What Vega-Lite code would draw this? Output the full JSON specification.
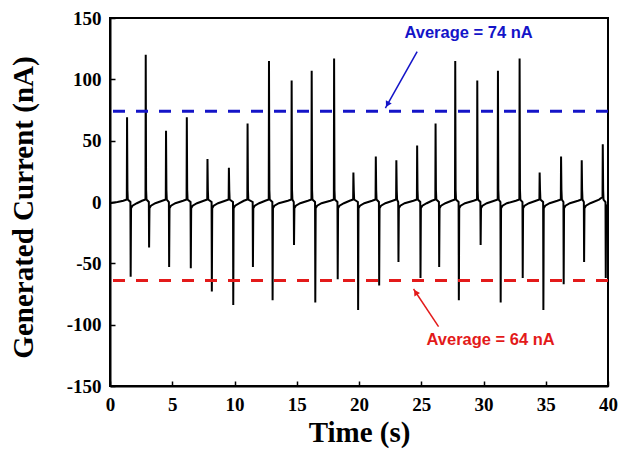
{
  "$schema": "https://vega.github.io/schema/vega-lite/v6.json",
  "autosize": {"type": "none"},
  "padding": {"left": 110, "top": 18, "right": 15, "bottom": 70},
  "width": 498,
  "height": 368,
  "background": "white",
  "config": {
    "view": {"stroke": "black", "strokeWidth": 2},
    "axis": {
      "grid": false,
      "domainColor": "black",
      "domainWidth": 2,
      "tickColor": "black",
      "tickWidth": 1.5,
      "labelFont": "Liberation Serif",
      "labelFontWeight": "bold",
      "labelFontSize": 19,
      "labelColor": "black",
      "titleFont": "Liberation Serif",
      "titleFontWeight": "bold",
      "titleFontSize": 29,
      "titleColor": "black"
    }
  },
  "datasets": {
    "trace": [
      {"t":0,"v":-1},{"t":0.6,"v":0},
      {"t":1.07,"v":1},{"t":1.35,"v":2},{"t":1.37,"v":69},{"t":1.40,"v":10},{"t":1.43,"v":2},{"t":1.64,"v":0},{"t":1.66,"v":-61},{"t":1.69,"v":-5},{"t":1.81,"v":-3},{"t":2.16,"v":-1},
      {"t":2.57,"v":1},{"t":2.85,"v":2},{"t":2.87,"v":120},{"t":2.90,"v":10},{"t":2.93,"v":2},{"t":3.12,"v":0},{"t":3.14,"v":-37},{"t":3.17,"v":-5},{"t":3.29,"v":-3},{"t":3.64,"v":-1},
      {"t":4.20,"v":1},{"t":4.48,"v":2},{"t":4.50,"v":58},{"t":4.53,"v":10},{"t":4.56,"v":2},{"t":4.73,"v":0},{"t":4.75,"v":-53},{"t":4.78,"v":-5},{"t":4.90,"v":-3},{"t":5.25,"v":-1},
      {"t":5.87,"v":1},{"t":6.15,"v":2},{"t":6.17,"v":69},{"t":6.20,"v":10},{"t":6.23,"v":2},{"t":6.47,"v":0},{"t":6.49,"v":-54},{"t":6.52,"v":-5},{"t":6.64,"v":-3},{"t":6.99,"v":-1},
      {"t":7.53,"v":1},{"t":7.81,"v":2},{"t":7.83,"v":35},{"t":7.86,"v":10},{"t":7.89,"v":2},{"t":8.16,"v":0},{"t":8.18,"v":-73},{"t":8.21,"v":-5},{"t":8.33,"v":-3},{"t":8.68,"v":-1},
      {"t":9.25,"v":1},{"t":9.53,"v":2},{"t":9.55,"v":28},{"t":9.58,"v":10},{"t":9.61,"v":2},{"t":9.88,"v":0},{"t":9.90,"v":-84},{"t":9.93,"v":-5},{"t":10.05,"v":-3},{"t":10.40,"v":-1},
      {"t":10.75,"v":1},{"t":11.03,"v":2},{"t":11.05,"v":64},{"t":11.08,"v":10},{"t":11.11,"v":2},{"t":11.46,"v":0},{"t":11.48,"v":-53},{"t":11.51,"v":-5},{"t":11.63,"v":-3},{"t":11.98,"v":-1},
      {"t":12.47,"v":1},{"t":12.75,"v":2},{"t":12.77,"v":115},{"t":12.80,"v":10},{"t":12.83,"v":2},{"t":13.04,"v":0},{"t":13.06,"v":-80},{"t":13.09,"v":-5},{"t":13.21,"v":-3},{"t":13.56,"v":-1},
      {"t":14.29,"v":1},{"t":14.57,"v":2},{"t":14.59,"v":99},{"t":14.62,"v":10},{"t":14.65,"v":2},{"t":14.76,"v":0},{"t":14.78,"v":-35},{"t":14.81,"v":-5},{"t":14.93,"v":-3},{"t":15.28,"v":-1},
      {"t":15.90,"v":1},{"t":16.18,"v":2},{"t":16.20,"v":107},{"t":16.23,"v":10},{"t":16.26,"v":2},{"t":16.47,"v":0},{"t":16.49,"v":-82},{"t":16.52,"v":-5},{"t":16.64,"v":-3},{"t":16.99,"v":-1},
      {"t":17.70,"v":1},{"t":17.98,"v":2},{"t":18.00,"v":117},{"t":18.03,"v":10},{"t":18.06,"v":2},{"t":18.27,"v":0},{"t":18.29,"v":-63},{"t":18.32,"v":-5},{"t":18.44,"v":-3},{"t":18.79,"v":-1},
      {"t":19.25,"v":1},{"t":19.53,"v":2},{"t":19.55,"v":24},{"t":19.58,"v":10},{"t":19.61,"v":2},{"t":19.91,"v":0},{"t":19.93,"v":-88},{"t":19.96,"v":-5},{"t":20.08,"v":-3},{"t":20.43,"v":-1},
      {"t":21.05,"v":1},{"t":21.33,"v":2},{"t":21.35,"v":37},{"t":21.38,"v":10},{"t":21.41,"v":2},{"t":21.60,"v":0},{"t":21.62,"v":-68},{"t":21.65,"v":-5},{"t":21.77,"v":-3},{"t":22.12,"v":-1},
      {"t":22.70,"v":1},{"t":22.98,"v":2},{"t":23.00,"v":34},{"t":23.03,"v":10},{"t":23.06,"v":2},{"t":23.15,"v":0},{"t":23.17,"v":-49},{"t":23.20,"v":-5},{"t":23.32,"v":-3},{"t":23.67,"v":-1},
      {"t":24.37,"v":1},{"t":24.65,"v":2},{"t":24.67,"v":46},{"t":24.70,"v":10},{"t":24.73,"v":2},{"t":24.92,"v":0},{"t":24.94,"v":-62},{"t":24.97,"v":-5},{"t":25.09,"v":-3},{"t":25.44,"v":-1},
      {"t":25.85,"v":1},{"t":26.13,"v":2},{"t":26.15,"v":64},{"t":26.18,"v":10},{"t":26.21,"v":2},{"t":26.42,"v":0},{"t":26.44,"v":-53},{"t":26.47,"v":-5},{"t":26.59,"v":-3},{"t":26.94,"v":-1},
      {"t":27.43,"v":1},{"t":27.71,"v":2},{"t":27.73,"v":115},{"t":27.76,"v":10},{"t":27.79,"v":2},{"t":28.00,"v":0},{"t":28.02,"v":-80},{"t":28.05,"v":-5},{"t":28.17,"v":-3},{"t":28.52,"v":-1},
      {"t":29.20,"v":1},{"t":29.48,"v":2},{"t":29.50,"v":99},{"t":29.53,"v":10},{"t":29.56,"v":2},{"t":29.75,"v":0},{"t":29.77,"v":-35},{"t":29.80,"v":-5},{"t":29.92,"v":-3},{"t":30.27,"v":-1},
      {"t":30.86,"v":1},{"t":31.14,"v":2},{"t":31.16,"v":107},{"t":31.19,"v":10},{"t":31.22,"v":2},{"t":31.36,"v":0},{"t":31.38,"v":-82},{"t":31.41,"v":-5},{"t":31.53,"v":-3},{"t":31.88,"v":-1},
      {"t":32.60,"v":1},{"t":32.88,"v":2},{"t":32.90,"v":117},{"t":32.93,"v":10},{"t":32.96,"v":2},{"t":33.13,"v":0},{"t":33.15,"v":-62},{"t":33.18,"v":-5},{"t":33.30,"v":-3},{"t":33.65,"v":-1},
      {"t":34.21,"v":1},{"t":34.49,"v":2},{"t":34.51,"v":24},{"t":34.54,"v":10},{"t":34.57,"v":2},{"t":34.79,"v":0},{"t":34.81,"v":-88},{"t":34.84,"v":-5},{"t":34.96,"v":-3},{"t":35.31,"v":-1},
      {"t":35.93,"v":1},{"t":36.21,"v":2},{"t":36.23,"v":37},{"t":36.26,"v":10},{"t":36.29,"v":2},{"t":36.42,"v":0},{"t":36.44,"v":-67},{"t":36.47,"v":-5},{"t":36.59,"v":-3},{"t":36.94,"v":-1},
      {"t":37.59,"v":1},{"t":37.87,"v":2},{"t":37.89,"v":34},{"t":37.92,"v":10},{"t":37.95,"v":2},{"t":38.06,"v":0},{"t":38.08,"v":-49},{"t":38.11,"v":-5},{"t":38.23,"v":-3},{"t":38.58,"v":-1},
      {"t":39.28,"v":2},{"t":39.56,"v":4},{"t":39.58,"v":47},{"t":39.61,"v":10},{"t":39.64,"v":2},{"t":39.80,"v":0},{"t":39.82,"v":-62},{"t":39.85,"v":-5},{"t":39.93,"v":-3},{"t":40.0,"v":-2}
    ],
    "avg": [
      {"kind": "high", "v": 74},
      {"kind": "low", "v": -64}
    ],
    "arrows": [
      {"kind": "high", "t": 24.67, "v": 122.5, "t2": 22.12, "v2": 76.6},
      {"kind": "low", "t": 26.39, "v": -101.6, "t2": 24.38, "v2": -70.9}
    ],
    "heads": [
      {"kind": "high", "t": 22.28, "v": 79.5},
      {"kind": "low", "t": 24.55, "v": -73.6}
    ],
    "labels": [
      {"kind": "high", "t": 28.8, "v": 137.7, "text": "Average = 74 nA"},
      {"kind": "low", "t": 30.57, "v": -112.5, "text": "Average = 64 nA"}
    ]
  },
  "layer": [
    {
      "data": {"name": "trace"},
      "mark": {"type": "line", "color": "black", "strokeWidth": 2, "clip": true},
      "encoding": {
        "x": {
          "field": "t", "type": "quantitative",
          "scale": {"domain": [0, 40], "nice": false, "zero": false},
          "axis": {
            "title": "Time (s)",
            "values": [0,2.5,5,7.5,10,12.5,15,17.5,20,22.5,25,27.5,30,32.5,35,37.5,40],
            "labelExpr": "datum.value % 5 === 0 ? '' + datum.value : ''",
            "tickSize": -5,
            "labelPadding": 14,
            "titleY": 46,
            "titleBaseline": "middle",
            "labelFlush": false
          }
        },
        "y": {
          "field": "v", "type": "quantitative",
          "scale": {"domain": [-150, 150], "nice": false},
          "axis": {
            "title": "Generated Current (nA)",
            "values": [-150,-125,-100,-75,-50,-25,0,25,50,75,100,125,150],
            "labelExpr": "datum.value % 50 === 0 ? '' + datum.value : ''",
            "tickSize": -5,
            "labelPadding": 14,
            "titleX": -87,
            "titleY": 189,
            "titleAngle": -90,
            "titleAlign": "center",
            "titleBaseline": "middle",
            "labelFlush": false
          }
        }
      }
    },
    {
      "data": {"name": "avg"},
      "mark": {"type": "rule", "strokeWidth": 3, "strokeDash": [12, 11]},
      "encoding": {
        "y": {"field": "v", "type": "quantitative"},
        "color": {"field": "kind", "type": "nominal", "scale": {"domain": ["high", "low"], "range": ["#1414c8", "#e31a1a"]}, "legend": null}
      }
    },
    {
      "data": {"name": "arrows"},
      "mark": {"type": "rule", "strokeWidth": 1.5},
      "encoding": {
        "x": {"field": "t", "type": "quantitative"},
        "y": {"field": "v", "type": "quantitative"},
        "x2": {"field": "t2"},
        "y2": {"field": "v2"},
        "color": {"field": "kind", "type": "nominal", "legend": null}
      }
    },
    {
      "data": {"name": "heads"},
      "transform": [{"filter": "datum.kind === 'high'"}],
      "mark": {"type": "point", "shape": "triangle-down", "filled": true, "opacity": 1, "size": 45, "angle": 29},
      "encoding": {
        "x": {"field": "t", "type": "quantitative"},
        "y": {"field": "v", "type": "quantitative"},
        "color": {"field": "kind", "type": "nominal", "legend": null}
      }
    },
    {
      "data": {"name": "heads"},
      "transform": [{"filter": "datum.kind === 'low'"}],
      "mark": {"type": "point", "shape": "triangle-up", "filled": true, "opacity": 1, "size": 45, "angle": -33},
      "encoding": {
        "x": {"field": "t", "type": "quantitative"},
        "y": {"field": "v", "type": "quantitative"},
        "color": {"field": "kind", "type": "nominal", "legend": null}
      }
    },
    {
      "data": {"name": "labels"},
      "mark": {"type": "text", "font": "Liberation Sans", "fontWeight": "bold", "fontSize": 16.5, "align": "center", "baseline": "middle"},
      "encoding": {
        "x": {"field": "t", "type": "quantitative"},
        "y": {"field": "v", "type": "quantitative"},
        "text": {"field": "text"},
        "color": {"field": "kind", "type": "nominal", "legend": null}
      }
    }
  ]
}
